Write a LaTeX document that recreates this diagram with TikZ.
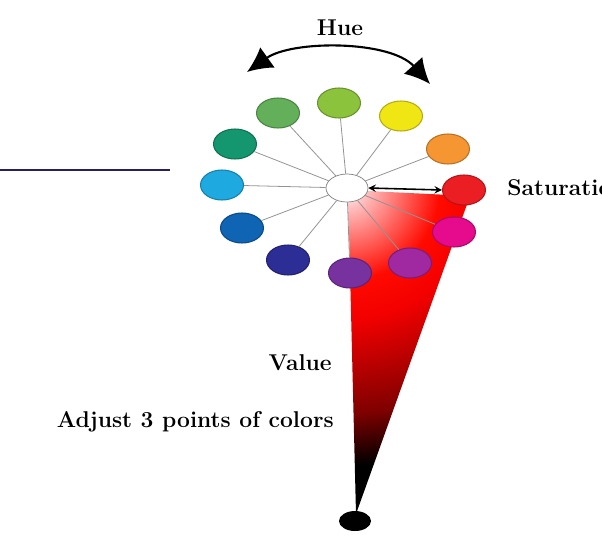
\documentclass[tikz,border=0pt]{standalone}
\usetikzlibrary{arrows.meta,shapes.geometric}
\definecolor{huelime}{RGB}{140,195,60}
\definecolor{hueleaf}{RGB}{100,175,90}
\definecolor{hueyellow}{RGB}{240,230,20}
\definecolor{hueorange}{RGB}{245,150,50}
\definecolor{hueteal}{RGB}{20,150,110}
\definecolor{huecyan}{RGB}{30,170,225}
\definecolor{huered}{RGB}{235,30,35}
\definecolor{hueblue}{RGB}{15,100,180}
\definecolor{huemagenta}{RGB}{230,10,140}
\definecolor{huenavy}{RGB}{45,45,150}
\definecolor{huepurple}{RGB}{120,50,160}
\definecolor{hueviolet}{RGB}{160,40,160}
\definecolor{rulenavy}{RGB}{40,30,100}
\pgfdeclareradialshading{conefade}{\pgfpoint{0bp}{0bp}}{color(0bp)=(white); color(1.5bp)=(white!75!red); color(7bp)=(red!92!orange); color(10bp)=(red!95!black); color(17bp)=(red!50!black); color(21bp)=(black); color(50bp)=(black)}
\tikzset{
  swatch/.style={ellipse, draw=#1!75!black, fill=#1, line width=0.6pt, minimum width=0.86cm, minimum height=0.6cm, inner sep=0pt},
  hubnode/.style={ellipse, draw=gray, fill=white, line width=0.4pt, minimum width=0.84cm, minimum height=0.56cm, inner sep=0pt},
  spoke/.style={draw=gray!85, line width=0.45pt},
  caption/.style={font=\fontsize{13}{15}\selectfont\bfseries, inner sep=0pt}
}
\begin{document}
\begin{tikzpicture}[x=0.02cm, y=-0.02cm, >=stealth]
\useasboundingbox (0,0) rectangle (602,535);
% value cone
\begin{scope}
\clip (348,190) -- (470,196) -- (356,514) -- cycle;
\shade[shading=conefade] (347,188) circle (6.6cm);
\end{scope}
\draw[rulenavy, line width=1.1pt] (0,170) -- (170,170);
\node[hubnode] (hub) at (347,188) {};
\node[swatch=huelime] (c1) at (339,103) {};
\node[swatch=hueyellow] (c2) at (401,116) {};
\node[swatch=hueorange] (c3) at (448,149) {};
\node[swatch=huered] (c4) at (464,190) {};
\node[swatch=huemagenta] (c5) at (454,232) {};
\node[swatch=hueviolet] (c6) at (410,263) {};
\node[swatch=huepurple] (c7) at (350,273) {};
\node[swatch=huenavy] (c8) at (288,260) {};
\node[swatch=hueblue] (c9) at (242,228) {};
\node[swatch=huecyan] (c10) at (222,185) {};
\node[swatch=hueteal] (c11) at (235,144) {};
\node[swatch=hueleaf] (c12) at (278,113) {};
\draw[spoke] (hub) -- (c1);
\draw[spoke] (hub) -- (c2);
\draw[spoke] (hub) -- (c3);
\draw[spoke] (hub) -- (c5);
\draw[spoke] (hub) -- (c6);
\draw[spoke] (hub) -- (c7);
\draw[spoke] (hub) -- (c8);
\draw[spoke] (hub) -- (c9);
\draw[spoke] (hub) -- (c10);
\draw[spoke] (hub) -- (c11);
\draw[spoke] (hub) -- (c12);
\draw[<->, line width=0.9pt] (hub.east) -- (c4.west);
% hue arc
\coordinate (huel) at (247,72);
\coordinate (huer) at (430,84);
\draw[{Latex[length=0.5cm,width=0.5cm]}-{Latex[length=0.5cm,width=0.5cm]}, line width=1.2pt] (huel) .. controls (292,40) and (390,40) .. (huer);
\node[ellipse, fill=black, minimum width=0.64cm, minimum height=0.4cm, inner sep=0pt] (tip) at (355,521) {};
\node[caption] (hue) at (340,28) {Hue};
\node[caption, anchor=west] (sat) at (507,188) {Saturation};
\node[caption, anchor=east] (value) at (332,363) {Value};
\node[caption, anchor=east] (adjust) at (334,422) {Adjust 3 points of colors};
\end{tikzpicture}
\end{document}
